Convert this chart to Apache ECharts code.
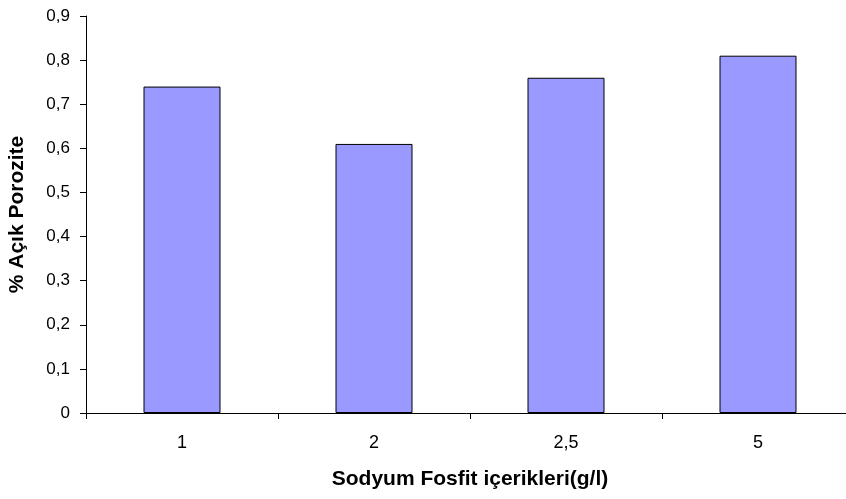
<!DOCTYPE html>
<html>
<head>
<meta charset="utf-8">
<script src="https://cdn.jsdelivr.net/npm/echarts@6/dist/echarts.min.js"></script>
<style>
  html, body { margin: 0; padding: 0; background: #fff; }
  #chart { width: 846px; height: 499px; }
</style>
</head>
<body>
<div id="chart"></div>
<script>
// Sodium phosphite content (g/l) and open porosity (%)
const categories = ['1', '2', '2,5', '5'];
const porosity = [0.74, 0.61, 0.76, 0.81];
const yTicks = [0, 0.1, 0.2, 0.3, 0.4, 0.5, 0.6, 0.7, 0.8, 0.9];

const fmt = v => String(Math.round(v * 10) / 10).replace('.', ',');
const FONT = 'Liberation Sans, Arial, sans-serif';

const chart = echarts.init(document.getElementById('chart'));
chart.setOption({
  animation: false,
  // the category band runs past the right edge of the canvas
  grid: { left: 86, top: 16, width: 768, bottom: 86, outerBoundsMode: 'none', containLabel: false },
  xAxis: {
    type: 'category',
    data: categories,
    name: 'Sodyum Fosfit içerikleri(g/l)',
    nameLocation: 'middle',
    nameGap: 56,
    nameTextStyle: { fontFamily: FONT, fontSize: 21, fontWeight: 'bold', color: '#000', verticalAlign: 'top' },
    axisLine: { lineStyle: { color: '#000', width: 1 } },
    axisTick: { show: true, length: 6, lineStyle: { color: '#000' } },
    axisLabel: { fontFamily: FONT, fontSize: 18, color: '#000', margin: 21 }
  },
  yAxis: {
    type: 'value',
    min: 0,
    max: yTicks[yTicks.length - 1],
    interval: 0.1,
    name: '% Açık Porozite',
    nameLocation: 'middle',
    nameGap: 58,
    nameTextStyle: { fontFamily: FONT, fontSize: 21, fontWeight: 'bold', color: '#000', verticalAlign: 'bottom' },
    axisLine: { show: true, lineStyle: { color: '#000', width: 1 } },
    axisTick: { show: true, length: 6, lineStyle: { color: '#000' } },
    splitLine: { show: false },
    axisLabel: { fontFamily: FONT, fontSize: 17, color: '#000', margin: 16, formatter: fmt }
  },
  series: [{
    type: 'bar',
    data: porosity,
    barWidth: 77,
    itemStyle: { color: '#9999FF', borderColor: '#000', borderWidth: 1 }
  }]
});
</script>
</body>
</html>
